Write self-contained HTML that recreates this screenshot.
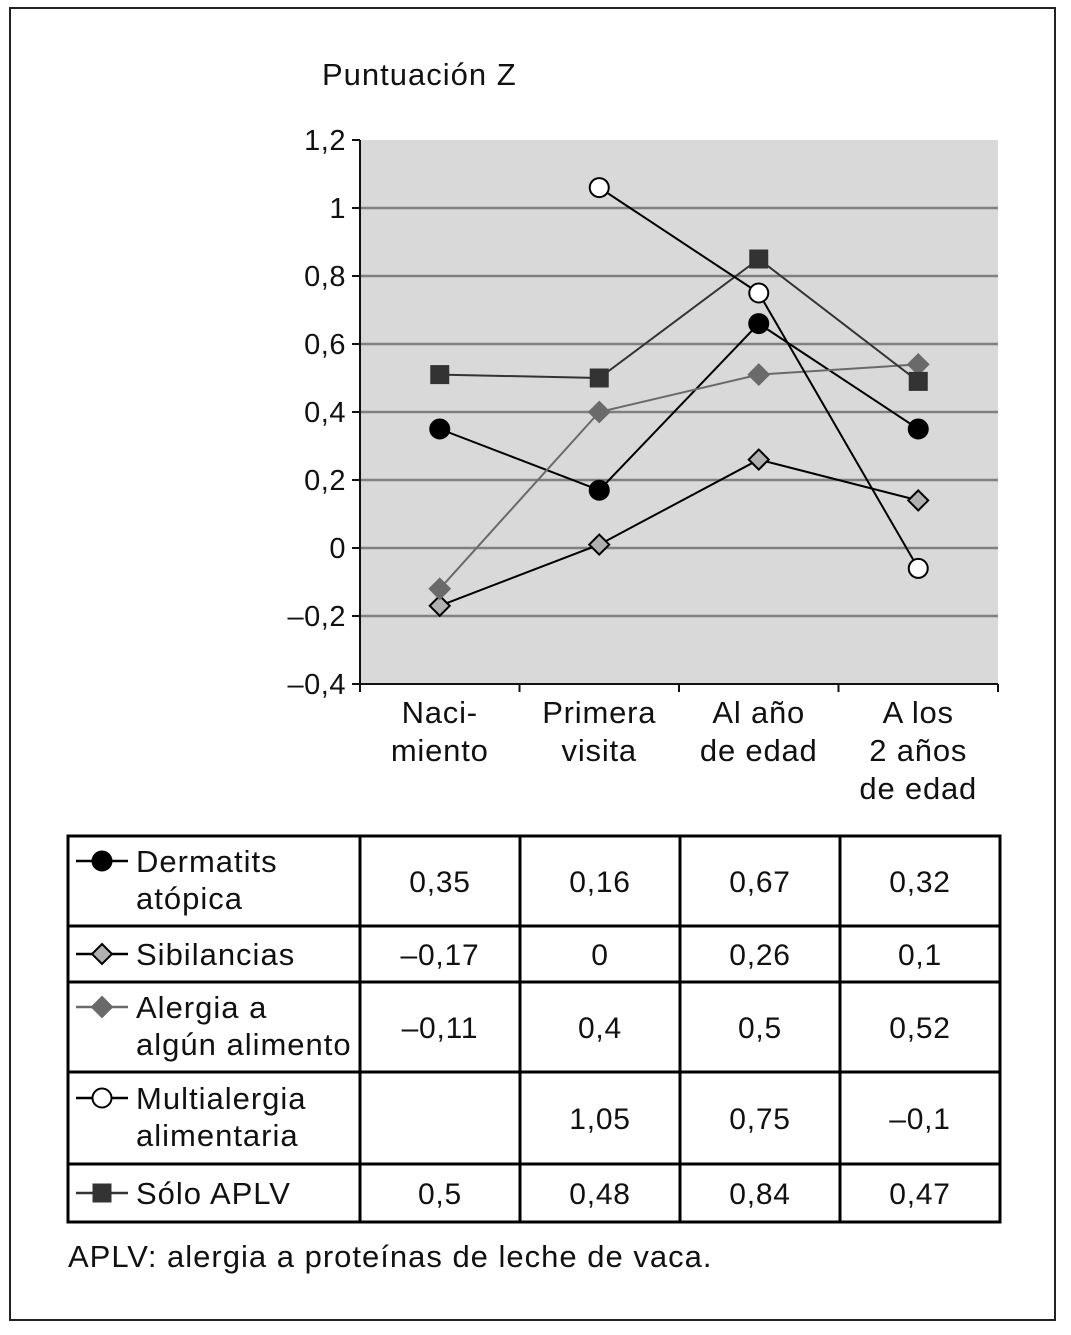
<!DOCTYPE html>
<html><head><meta charset="utf-8"><style>
body{margin:0;background:#fff}
svg text{font-family:"Liberation Sans",sans-serif;fill:#111}
</style></head><body>
<svg id="c" width="1071" height="1330" xmlns="http://www.w3.org/2000/svg">
<rect x="10" y="8" width="1045" height="1312" fill="none" stroke="#222" stroke-width="2"/>
<text x="322" y="85" font-size="31" letter-spacing="1">Puntuación Z</text>
<rect x="360" y="140" width="638" height="544" fill="#d9d9d9"/>
<g id="grid"></g><g id="axes"></g><g id="series"></g><g id="table"></g>
<text x="68" y="1267" font-size="31" letter-spacing="1">APLV: alergia a proteínas de leche de vaca.</text>
</svg>
<script>
const categories=[["Naci-","miento"],["Primera","visita"],["Al año","de edad"],["A los","2 años","de edad"]];
const yTicks=[1.2,1,0.8,0.6,0.4,0.2,0,-0.2,-0.4];
const yTickLabels=["1,2","1","0,8","0,6","0,4","0,2","0","–0,2","–0,4"];
const dermatitis=[0.35,0.17,0.66,0.35];
const sibilancias=[-0.17,0.01,0.26,0.14];
const alergia=[-0.12,0.4,0.51,0.54];
const multialergia=[null,1.06,0.75,-0.06];
const soloAplv=[0.51,0.5,0.85,0.49];
const tableDermatitis=["0,35","0,16","0,67","0,32"];
const tableSibilancias=["–0,17","0","0,26","0,1"];
const tableAlergia=["–0,11","0,4","0,5","0,52"];
const tableMulti=["","1,05","0,75","–0,1"];
const tableSolo=["0,5","0,48","0,84","0,47"];

const NS="http://www.w3.org/2000/svg";
const X0=360,X1=998,Y0=140,Y1=684;
const y=v=>Y1-(v+0.4)/1.6*(Y1-Y0);
const band=(X1-X0)/categories.length;
const x=i=>X0+band*(i+0.5);
function mk(tag,attrs,parent){const e=document.createElementNS(NS,tag);for(const k in attrs)e.setAttribute(k,attrs[k]);parent.appendChild(e);return e;}
const grid=document.getElementById('grid'),axes=document.getElementById('axes'),ser=document.getElementById('series'),tb=document.getElementById('table');
yTicks.forEach((t,i)=>{
 if(t>-0.4&&t<1.2){const l=mk('line',{x1:X0,x2:X1,y1:y(t),y2:y(t),stroke:'#808080','stroke-width':2.5},grid);
 
 }
 const tk=mk('line',{x1:X0-8,x2:X0,y1:y(t),y2:y(t),stroke:'#111','stroke-width':2},axes);
 
 
 const tx=mk('text',{x:X0-14,y:y(t)+10,'font-size':29,'letter-spacing':0.5,'text-anchor':'end'},axes);tx.textContent=yTickLabels[i];
 
 
});
const ya=mk('line',{x1:X0,x2:X0,y1:Y0,y2:Y1,stroke:'#111','stroke-width':2},axes);


const xa=mk('line',{x1:X0,x2:X1,y1:Y1,y2:Y1,stroke:'#111','stroke-width':2},axes);


for(let i=0;i<=categories.length;i++){const t=mk('line',{x1:X0+band*i,x2:X0+band*i,y1:Y1,y2:Y1+8,stroke:'#111','stroke-width':2},axes);
 
 }
categories.forEach((c,i)=>{c.forEach((ln,j)=>{const t=mk('text',{x:x(i),y:Y1+39+j*38,'font-size':31,'letter-spacing':0.8,'text-anchor':'middle'},axes);t.textContent=ln;
 
 });});

function marker(shape,cx,cy,fill,stroke,p){
 let e;
 if(shape==='circle')e=mk('circle',{cx,cy,r:9.5,fill,stroke,'stroke-width':2},p);
 else if(shape==='square')e=mk('rect',{x:cx-9,y:cy-9,width:18,height:18,fill,stroke,'stroke-width':1},p);
 else e=mk('polygon',{points:`${cx},${cy-10} ${cx+10},${cy} ${cx},${cy+10} ${cx-10},${cy}`,fill,stroke,'stroke-width':2},p);
 return e;
}
const specs=[
 {name:'dermatitis',data:dermatitis,shape:'circle',fill:'#000',stroke:'#000',line:'#000'},
 {name:'sibilancias',data:sibilancias,shape:'diamond',fill:'#b0b0b0',stroke:'#000',line:'#000'},
 {name:'alergia',data:alergia,shape:'diamond',fill:'#6a6a6a',stroke:'#6a6a6a',line:'#6a6a6a'},
 {name:'solo-aplv',data:soloAplv,shape:'square',fill:'#333',stroke:'#333',line:'#333'},
 {name:'multialergia',data:multialergia,shape:'circle',fill:'#fff',stroke:'#000',line:'#000'}
];
specs.forEach(s=>{
 const g=mk('g',{},ser);
 
 
 const pts=s.data.map((v,i)=>v==null?null:[x(i),y(v)]).filter(p=>p);
 const pl=mk('polyline',{points:pts.map(p=>p.join(',')).join(' '),fill:'none',stroke:s.line,'stroke-width':2},g);
 
 
 pts.forEach(p=>{const m=marker(s.shape,p[0],p[1],s.fill,s.stroke,g);
 
 });
});

const cols=[68,360,520,680,840,1000];
const rows=[836,926,982,1072,1164,1222];
const rowLabels=[["Dermatits","atópica"],["Sibilancias"],["Alergia a","algún alimento"],["Multialergia","alimentaria"],["Sólo APLV"]];
const rowVals=[tableDermatitis,tableSibilancias,tableAlergia,tableMulti,tableSolo];
const legendSpec=[specs[0],specs[1],specs[2],specs[4],specs[3]];
rows.forEach(r=>{const l=mk('line',{x1:cols[0]-1.5,x2:cols[5]+1.5,y1:r,y2:r,stroke:'#000','stroke-width':3},tb);
 
 });
cols.forEach(c=>{const l=mk('line',{x1:c,x2:c,y1:rows[0],y2:rows[5],stroke:'#000','stroke-width':3},tb);
 
 });
rowLabels.forEach((lab,r)=>{
 const top=rows[r],bot=rows[r+1],mid=(top+bot)/2;
 const s=legendSpec[r];
 const ly=lab.length>1?mid-20:mid;
 const ll=mk('line',{x1:76,x2:128,y1:ly,y2:ly,stroke:s.line,'stroke-width':2.5},tb);
 
 
 const lm=marker(s.shape,102,ly,s.fill,s.stroke,tb);
 
 
 lab.forEach((t,j)=>{const tx=mk('text',{x:136,y:(lab.length>1?mid-9:mid+11)+j*37,'font-size':31,'letter-spacing':1},tb);tx.textContent=t;
 
 });
 rowVals[r].forEach((v,i)=>{const tx=mk('text',{x:(cols[i+1]+cols[i+2])/2,y:mid+11,'font-size':30,'letter-spacing':0.8,'text-anchor':'middle'},tb);tx.textContent=v;
 
 });
});
</script>
</body></html>
